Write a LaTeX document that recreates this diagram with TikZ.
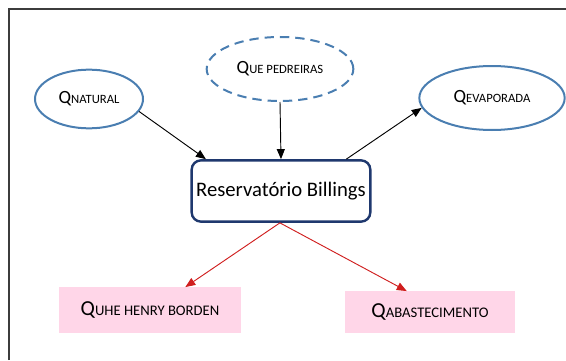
\documentclass[tikz,border=0pt]{standalone}
\usepackage{fontspec}
\setmainfont{Carlito}
\usetikzlibrary{arrows.meta,shapes.geometric}
\definecolor{flowblue}{RGB}{74,126,177}
\definecolor{resblue}{RGB}{31,56,110}
\definecolor{outpink}{RGB}{255,214,232}
\definecolor{outred}{RGB}{208,30,30}
\definecolor{framegray}{RGB}{60,60,60}
\newcommand{\qname}[1]{Q{\fontsize{11}{13}\selectfont #1}}
\newcommand{\qsmall}[1]{{\fontsize{14}{17}\selectfont Q}{\fontsize{9.5}{11}\selectfont #1}}
\begin{document}
\begin{tikzpicture}[x=0.75pt,y=-0.75pt,
    every node/.style={font=\fontsize{16}{19}\selectfont,inner sep=0pt},
    flow/.style={ellipse,draw=flowblue,line width=1.5pt},
    reservoir/.style={rectangle,rounded corners=7pt,draw=resblue,line width=1.8pt,fill=white,font=\fontsize{15.5}{18}\selectfont},
    outflow/.style={rectangle,fill=outpink},
    inarrow/.style={-{Triangle[length=7.5pt,width=6pt]},line width=0.7pt,black},
    outarrow/.style={-{Triangle[length=7.5pt,width=6pt]},line width=0.7pt,outred}]
  \useasboundingbox (0,0) rectangle (566,360);
  \draw[framegray,line width=0.9pt] (9,360) -- (9,9) -- (566,9);
  \draw
    (89,99) node[flow,minimum width=81pt,minimum height=44pt] (natural){\qsmall{NATURAL}}
    (280,69) node[flow,dashed,dash pattern=on 7pt off 4.5pt,minimum width=110pt,minimum height=48pt] (pedreiras){\qsmall{UE PEDREIRAS}}
    (492,98) node[flow,minimum width=109pt,minimum height=48pt] (evaporada){\qsmall{EVAPORADA}}
    (281,191) node[reservoir,minimum width=134pt,minimum height=46pt] (billings){Reservatório Billings}
    (150,310) node[outflow,minimum width=136pt,minimum height=34pt] (henry){\qname{UHE HENRY BORDEN}}
    (430,312) node[outflow,minimum width=127pt,minimum height=31pt] (abastecimento){\qname{ABASTECIMENTO}};
  \begin{scope}[inarrow]
    \draw (natural.-14) to (billings.157);
    \draw (pedreiras.south) to (billings.north);
    \draw (billings.26) to (evaporada.188);
  \end{scope}
  \begin{scope}[outarrow]
    \draw (billings.-92) to (henry.33);
    \draw (billings.-92) to (abastecimento.138);
  \end{scope}
\end{tikzpicture}
\end{document}
